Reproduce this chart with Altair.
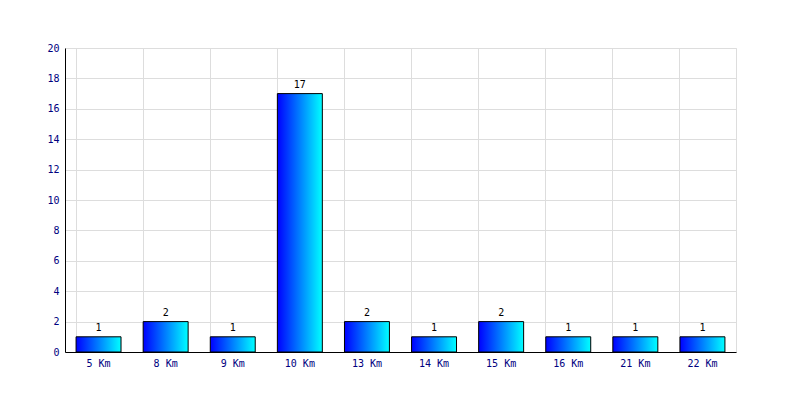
import altair as alt
import pandas as pd

categories = ["5 Km", "8 Km", "9 Km", "10 Km", "13 Km", "14 Km", "15 Km", "16 Km", "21 Km", "22 Km"]
counts = [1, 2, 1, 17, 2, 1, 2, 1, 1, 1]
y_ticks = [0, 2, 4, 6, 8, 10, 12, 14, 16, 18, 20]

df = pd.DataFrame({"cat": categories, "n": counts})

font = "DejaVu Sans Mono"
navy = "#000080"

x = alt.X("cat:N", sort=categories, title=None,
          scale=alt.Scale(paddingInner=0.33, paddingOuter=0.165),
          axis=alt.Axis(labelAngle=0, labelColor=navy, labelFont=font, labelFontSize=10,
                        ticks=False, domainColor="black", grid=True, gridColor="#dddddd",
                        bandPosition=0, labelPadding=6, labelOverlap=False))
y = alt.Y("n:Q", title=None,
          scale=alt.Scale(domain=[0, 20]),
          axis=alt.Axis(values=y_ticks, tickCount=20, labelColor=navy, labelFont=font, labelFontSize=10,
                        ticks=False, domainColor="black", gridColor="#dddddd", labelPadding=6,
                        labelOverlap=False))

grad = alt.Gradient(gradient="linear",
                    stops=[alt.GradientStop(color="#0000ff", offset=0),
                           alt.GradientStop(color="#00ffff", offset=1)],
                    x1=0, x2=1, y1=0, y2=0)

bars = alt.Chart(df).mark_bar(color=grad, stroke="black", strokeWidth=1).encode(x=x, y=y)
labels = alt.Chart(df).mark_text(baseline="bottom", dy=-4, font=font, fontSize=10, color="black").encode(
    x=x, y=y, text="n:Q")

chart = (bars + labels).properties(
    width=671, height=304,
    autosize=alt.AutoSizeParams(type="none"),
    padding={"left": 57, "top": 40, "right": 50, "bottom": 40},
    background="white",
).configure_view(stroke="#dddddd")

chart.save("out.html", embed_options={"renderer": "svg", "actions": False})
